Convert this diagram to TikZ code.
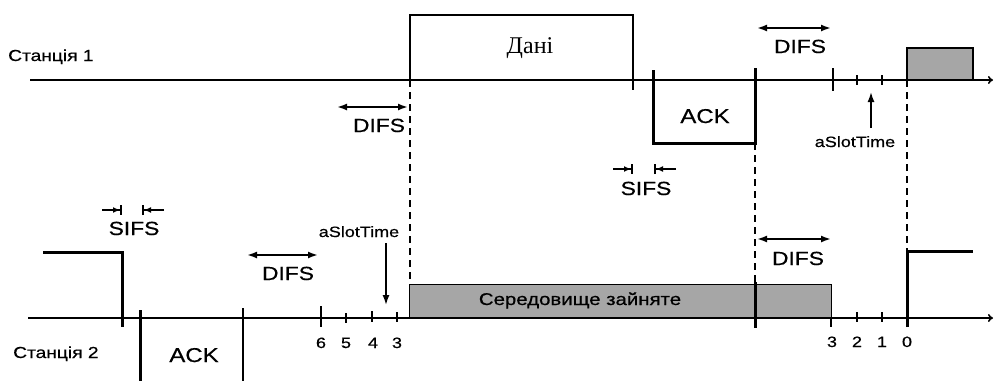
\documentclass[tikz,border=0pt]{standalone}
\usepackage{fontspec}
\setmainfont{Liberation Sans}[FakeStretch=1.2,FakeBold=0.6]
\newfontfamily\datafont{Liberation Serif}
\usetikzlibrary{arrows.meta}
\begin{document}
\begin{tikzpicture}[x=1pt,y=-1pt,
  axis/.style={line width=1.6pt,-{To[length=5pt,width=8pt]}},
  thinedge/.style={line width=1.4pt},
  thickedge/.style={line width=3pt,line join=miter},
  tickmark/.style={line width=1.5pt},
  bigtick/.style={line width=1.9pt},
  guide/.style={line width=1.5pt,dash pattern=on 7pt off 5pt},
  dimarrow/.style={line width=1.8pt,{Latex[length=10pt,width=7pt]}-{Latex[length=10pt,width=7pt]}},
  sifsarrow/.style={line width=1.8pt,-{Latex[length=7pt,width=6pt]Bar[width=10pt,line width=2pt]}},
  pointer/.style={line width=1.6pt,-{Latex[length=10pt,width=7pt]}},
  busy/.style={fill=gray!70,draw=black,line width=1.4pt},
  lbl/.style={inner sep=0pt,anchor=base,font=\fontsize{19}{19}\selectfont},
  acklbl/.style={inner sep=0pt,anchor=base,font=\fontsize{20}{20}\selectfont},
  small/.style={inner sep=0pt,anchor=base,font=\fontsize{15}{15}\selectfont},
  station/.style={inner sep=0pt,anchor=base west,font=\fontsize{16}{16}\selectfont},
  busylbl/.style={inner sep=0pt,anchor=base,font=\fontsize{17}{17}\selectfont}]
\useasboundingbox (0,0) rectangle (995,381);

% ---------- Station 1 ----------
\coordinate (s1start) at (30,80);
\coordinate (s1end) at (993,80);
\fill[gray!70] (907,48) rectangle (973,80);
\draw[thinedge] (907,80) -- (907,48) -- (973,48) -- (973,80);
\draw[axis] (s1start) -- (s1end);
\node[station] (st1) at (8,61) {Станція 1};

% data frame
\coordinate (d1) at (410,80);
\coordinate (d2) at (410,15);
\coordinate (d3) at (633,15);
\coordinate (d4) at (633,90);
\draw[thinedge] (d1) -- (d2) -- (d3) -- (d4);
\node[inner sep=0pt,anchor=base,font=\datafont\fontsize{24}{24}\selectfont] (data) at (530,53) {Дані};

% DIFS before data
\coordinate (difsA1) at (337,107);
\coordinate (difsA2) at (408,107);
\draw[dimarrow] (difsA1) -- (difsA2);
\node[lbl] (difsA) at (379,132) {DIFS};

% ACK at station 1
\coordinate (a1) at (653,70);
\coordinate (a2) at (653,143);
\coordinate (a3) at (755,143);
\coordinate (a4) at (755,68);
\draw[thickedge] (a1) -- (a2) -- (a3) -- (a4);
\node[acklbl] (ack1) at (705,123) {ACK};

% SIFS middle
\coordinate (sifsB1) at (613,169);
\coordinate (sifsB2) at (633,169);
\coordinate (sifsB3) at (676,169);
\coordinate (sifsB4) at (654,169);
\draw[sifsarrow] (sifsB1) -- (sifsB2);
\draw[sifsarrow] (sifsB3) -- (sifsB4);
\node[lbl] (sifsB) at (646,195) {SIFS};

% DIFS after ACK, station 1
\coordinate (difsC1) at (757,28);
\coordinate (difsC2) at (831,28);
\draw[dimarrow] (difsC1) -- (difsC2);
\node[lbl] (difsC) at (800,53) {DIFS};

% slot ticks station 1
\draw[bigtick] (833,68) -- (833,91);
\draw[tickmark] (857,75) -- (857,85);
\draw[tickmark] (882,75) -- (882,85);
\coordinate (slot1a) at (871,128);
\coordinate (slot1b) at (871,92);
\draw[pointer] (slot1a) -- (slot1b);
\node[small] (slot1) at (855,147) {aSlotTime};

% ---------- dashed guides ----------
\draw[guide] (410,80) -- (410,284);
\draw[guide] (755,143) -- (755,282);
\draw[guide] (907,80) -- (907,251);

% ---------- Station 2 ----------
\coordinate (s2start) at (28,318);
\coordinate (s2end) at (993,318);
\node[busy,minimum width=346pt,minimum height=34pt,inner sep=0pt,anchor=north west] (busy1) at (409,284) {};
\node[busy,minimum width=76pt,minimum height=34pt,inner sep=0pt,anchor=north west] (busy2) at (755,284) {};
\node[busylbl] (busytxt) at (580,305) {Середовище зайняте};
\draw[axis] (s2start) -- (s2end);
\node[station] (st2) at (13,358) {Станція 2};

% previous frame end
\coordinate (p1) at (43,252);
\coordinate (p2) at (122,252);
\coordinate (p3) at (122,327);
\draw[thickedge] (p1) -- (p2) -- (p3);

% SIFS station 2
\coordinate (sifsD1) at (102,210);
\coordinate (sifsD2) at (122,210);
\coordinate (sifsD3) at (164,210);
\coordinate (sifsD4) at (142,210);
\draw[sifsarrow] (sifsD1) -- (sifsD2);
\draw[sifsarrow] (sifsD3) -- (sifsD4);
\node[lbl] (sifsD) at (134,235) {SIFS};

% ACK station 2
\draw[thickedge] (140,310) -- (140,381);
\draw[thinedge] (243,308) -- (243,381);
\node[acklbl] (ack2) at (194,362) {ACK};

% DIFS station 2 left
\coordinate (difsE1) at (247,255);
\coordinate (difsE2) at (318,255);
\draw[dimarrow] (difsE1) -- (difsE2);
\node[lbl] (difsE) at (288,280) {DIFS};

% backoff ticks left
\draw[tickmark] (321,306) -- (321,327);
\draw[bigtick] (346,313) -- (346,323);
\draw[tickmark] (372,311) -- (372,322);
\draw[tickmark] (397,312) -- (397,322);
\node[small] (n6) at (321,348) {6};
\node[small] (n5) at (346,348) {5};
\node[small] (n4) at (373,348) {4};
\node[small] (n3a) at (397,348) {3};
\node[small] (slot2) at (359,237) {aSlotTime};
\coordinate (slot2a) at (386,243);
\coordinate (slot2b) at (386,305);
\draw[pointer] (slot2a) -- (slot2b);

% ACK end mark on station 2
\draw[thickedge] (755,282) -- (755,328);

% DIFS station 2 right
\coordinate (difsF1) at (757,239);
\coordinate (difsF2) at (831,239);
\draw[dimarrow] (difsF1) -- (difsF2);
\node[lbl] (difsF) at (798,265) {DIFS};

% backoff ticks right
\draw[tickmark] (831,318) -- (831,327);
\draw[tickmark] (857,312) -- (857,322);
\draw[tickmark] (882,312) -- (882,322);
\node[small] (n3b) at (832,347) {3};
\node[small] (n2) at (857,347) {2};
\node[small] (n1) at (882,347) {1};
\node[small] (n0) at (907,347) {0};

% new frame start
\coordinate (q1) at (907,327);
\coordinate (q2) at (907,251);
\coordinate (q3) at (973,251);
\draw[thickedge] (q1) -- (q2) -- (q3);
\end{tikzpicture}
\end{document}
